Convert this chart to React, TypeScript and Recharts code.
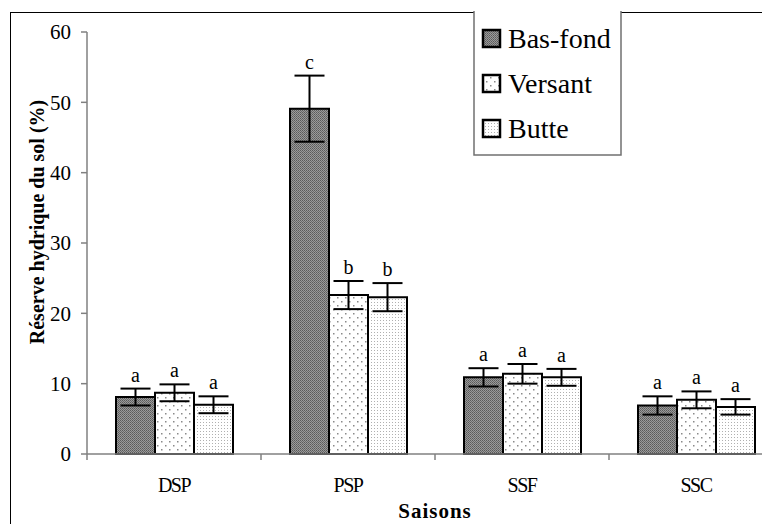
import { BarChart, Bar, XAxis, YAxis, ErrorBar, LabelList } from 'recharts';

const seasons = ['DSP', 'PSP', 'SSF', 'SSC'];

const basFond = [8.1, 49.1, 10.9, 6.9];
const basFondErr = [1.2, 4.7, 1.3, 1.3];
const basFondLetters = ['a', 'c', 'a', 'a'];

const versant = [8.7, 22.6, 11.4, 7.7];
const versantErr = [1.2, 2.0, 1.4, 1.2];
const versantLetters = ['a', 'b', 'a', 'a'];

const butte = [7.0, 22.3, 10.9, 6.7];
const butteErr = [1.2, 2.0, 1.2, 1.1];
const butteLetters = ['a', 'b', 'a', 'a'];

const yTicks = [0, 10, 20, 30, 40, 50, 60];

const data = seasons.map((s, i) => ({
  season: s,
  basFond: basFond[i],
  basFondErr: basFondErr[i],
  basFondLetter: basFondLetters[i],
  versant: versant[i],
  versantErr: versantErr[i],
  versantLetter: versantLetters[i],
  butte: butte[i],
  butteErr: butteErr[i],
  butteLetter: butteLetters[i],
}));

const series = [
  { key: 'basFond', name: 'Bas-fond', fill: 'url(#patBasFond)', values: basFond, errs: basFondErr },
  { key: 'versant', name: 'Versant', fill: 'url(#patVersant)', values: versant, errs: versantErr },
  { key: 'butte', name: 'Butte', fill: 'url(#patButte)', values: butte, errs: butteErr },
];

const FONT = 'Liberation Serif, serif';
const SERIF = { fontFamily: "'Liberation Serif', 'Times New Roman', serif" };
const AXIS = '#808080';
const CHART_W = 800;
const CHART_H = 516;
const MARGIN = { top: 24, right: 25, left: 0, bottom: 0 };
const Y_W = 79;
const BAND = (CHART_W - Y_W - MARGIN.right) / seasons.length;

const Patterns = () => (
  <svg width={0} height={0} style={{ position: 'absolute' }}>
    <defs>
      <pattern id="patBasFond" width={2} height={2} patternUnits="userSpaceOnUse">
        <rect width={2} height={2} fill="#9a9a9a" />
        <rect width={1} height={1} fill="#5a5a5a" />
        <rect x={1} y={1} width={1} height={1} fill="#6a6a6a" />
      </pattern>
      <pattern id="patVersant" width={8} height={8} patternUnits="userSpaceOnUse">
        <rect width={8} height={8} fill="#fff" />
        <rect x={1} y={1} width={1.5} height={1.5} fill="#8a8a8a" />
        <rect x={5} y={5} width={1.5} height={1.5} fill="#8a8a8a" />
      </pattern>
      <pattern id="patButte" width={3} height={3} patternUnits="userSpaceOnUse">
        <rect width={3} height={3} fill="#fff" />
        <rect x={0} y={0} width={1} height={1} fill="#b0b0b0" />
      </pattern>
    </defs>
  </svg>
);

const XTick = ({ x, y, payload }: any) => (
  <g>
    <line x1={x - BAND / 2} x2={x - BAND / 2} y1={y} y2={y + 6} stroke={AXIS} strokeWidth={1.5} />
    <text x={x} y={y + 38} textAnchor="middle" style={SERIF} fontSize={20} letterSpacing={-1.5} fill="#000">
      {payload.value}
    </text>
  </g>
);

const makeLetter = (values: number[], errs: number[]) => (props: any) => {
  const { x, y, width, height, value, index } = props;
  const pxPerUnit = height / values[index];
  const top = y - errs[index] * pxPerUnit;
  return (
    <text x={x + width / 2} y={top - 7} textAnchor="middle" style={SERIF} fontSize={20} fill="#000">
      {value}
    </text>
  );
};

// legend drawn as svg so it uses the same serif face as the chart
const LegendBox = () => (
  <svg width={150} height={146} style={{ position: 'absolute', left: 465, top: 3 }}>
    <path d="M1,0 V144 H148 V0" fill="#fff" stroke="#707070" strokeWidth={1.5} />
    {series.map((s, i) => (
      <g key={s.key} transform={`translate(0, ${28 + i * 45})`}>
        <rect x={10} y={-9} width={17} height={17} fill={s.fill} stroke="#000" strokeWidth={2.5} />
        <text x={35} y={9} style={{ ...SERIF, fontSize: 28 }} fill="#000">
          {s.name}
        </text>
      </g>
    ))}
  </svg>
);

export default function App() {
  return (
    <div style={{ position: 'relative', width: 762, height: 516, overflow: 'hidden', background: '#fff' }}>
      <Patterns />
      <div
        style={{
          position: 'absolute',
          left: 2,
          top: 4,
          width: 900,
          height: 700,
          borderLeft: '1.5px solid #000',
          borderTop: '1.5px solid #000',
        }}
      />
      <div style={{ position: 'absolute', left: 0, top: 0 }}>
        <BarChart width={CHART_W} height={CHART_H} data={data} margin={MARGIN} barSize={39} barGap={0}>
          <XAxis
            dataKey="season"
            height={70}
            stroke={AXIS}
            strokeWidth={1.5}
            tickLine={false}
            tickSize={0}
            tickMargin={0}
            tick={<XTick />}
            interval={0}
            label={{
              value: 'Saisons',
              position: 'insideBottom',
              offset: 6,
              fontFamily: FONT,
              fontSize: 21,
              fontWeight: 'bold',
              letterSpacing: 1,
              fill: '#000',
            }}
          />
          <YAxis
            width={Y_W}
            domain={[0, 60]}
            ticks={yTicks}
            interval={0}
            stroke={AXIS}
            strokeWidth={1.5}
            tickSize={6}
            tickMargin={10}
            tick={{ fontFamily: FONT, fontSize: 21, fill: '#000' }}
            label={{
              content: ({ viewBox }: any) => {
                const cx = viewBox.x + 29;
                const cy = viewBox.y + viewBox.height / 2 - 21;
                return (
                  <text
                    x={cx}
                    y={cy}
                    transform={`rotate(-90, ${cx}, ${cy})`}
                    textAnchor="middle"
                    dominantBaseline="central"
                    style={SERIF}
                    fontSize={20}
                    fontWeight="bold"
                    fill="#000"
                  >
                    Réserve hydrique du sol (%)
                  </text>
                );
              },
            }}
          />
          {series.map((s) => (
            <Bar
              key={s.key}
              dataKey={s.key}
              name={s.name}
              fill={s.fill}
              stroke="#000"
              strokeWidth={2}
              isAnimationActive={false}
            >
              <ErrorBar dataKey={`${s.key}Err`} width={15} stroke="#000" strokeWidth={2} direction="y" />
              <LabelList dataKey={`${s.key}Letter`} content={makeLetter(s.values, s.errs)} />
            </Bar>
          ))}
        </BarChart>
      </div>
      <LegendBox />
    </div>
  );
}
